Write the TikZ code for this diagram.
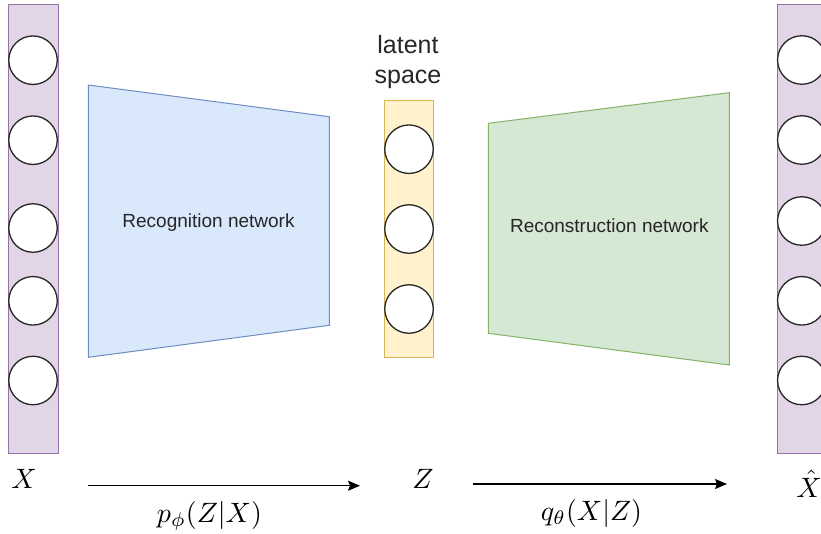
\documentclass[tikz,border=0pt]{standalone}
\usepackage{fontspec}
\setmainfont{Liberation Sans}
\usepackage{amsmath,amssymb}
\usepackage{xcolor}
\usetikzlibrary{positioning,arrows.meta}

\definecolor{colFill}{HTML}{E1D5E7}
\definecolor{colLine}{HTML}{9673A6}
\definecolor{encFill}{HTML}{DAE8FC}
\definecolor{encLine}{HTML}{6C8EBF}
\definecolor{decFill}{HTML}{D5E8D4}
\definecolor{decLine}{HTML}{82B366}
\definecolor{latFill}{HTML}{FFF2CC}
\definecolor{latLine}{HTML}{D6B656}

\begin{document}
\begin{tikzpicture}[x=1pt, y=-1pt,
  column/.style={draw=colLine, fill=colFill, line width=1pt, minimum width=49.8pt, minimum height=449.5pt, inner sep=0pt},
  neuron/.style={circle, draw=black!85, line width=1.3pt, fill=white, minimum size=48.5pt, inner sep=0pt},
  netlabel/.style={font=\fontsize{19}{23}\selectfont, text=black!85, inner sep=0pt},
  mathlabel/.style={scale=2.8, inner sep=0pt},
  flow/.style={line width=1.2pt, -{Stealth[length=12pt, width=10pt, inset=2pt]}}]
  \clip (0,0) rectangle (821,533);

  % Input layer X
  \node[column] (incol) at (33.4, 228.75) {};
  \foreach \y [count=\i] in {60.2, 140.2, 228, 300.8, 380.5}
    \node[neuron] (x\i) at (33, \y) {};
  \node[mathlabel, anchor=base] (xlab) at (24, 488) {$X$};

  % Recognition network
  \filldraw[draw=encLine, fill=encFill, line width=1pt] (88.3,85) -- (329.3,116.7) -- (329.3,325.3) -- (88.3,357.3) -- cycle;
  \node[netlabel, anchor=base] (enc) at (208.5, 227.3) {Recognition network};

  % Latent space Z
  \node[draw=latLine, fill=latFill, line width=1pt, minimum width=48.3pt, minimum height=256.6pt, inner sep=0pt] (zcol) at (409, 229) {};
  \foreach \y [count=\i] in {149.2, 229, 309}
    \node[neuron] (z\i) at (409, \y) {};
  \node[font=\fontsize{25}{30}\selectfont, text=black!85, align=center, inner sep=0pt] (latlab) at (408, 62) {latent\\space};
  \node[mathlabel, anchor=base] (zlab) at (423, 488) {$Z$};

  % Reconstruction network
  \filldraw[draw=decLine, fill=decFill, line width=1pt] (488.3,123.3) -- (729.3,92.7) -- (729.3,365) -- (488.3,333.3) -- cycle;
  \node[netlabel, anchor=base] (dec) at (609.3, 232.7) {Reconstruction network};

  % Output layer X hat
  \node[column] (outcol) at (802, 228.75) {};
  \foreach \y [count=\i] in {60, 140, 221, 300.8, 380.5}
    \node[neuron] (y\i) at (801.8, \y) {};
  \node[mathlabel, anchor=base] (xhatlab) at (809, 497) {$\hat{X}$};

  % Encoder / decoder arrows
  \coordinate (pstart) at (88.3, 485.7);
  \coordinate (pend) at (360, 485.7);
  \coordinate (qstart) at (473.3, 484);
  \coordinate (qend) at (727, 484);
  \draw[flow] (pstart) -- (pend);
  \draw[flow] (qstart) -- (qend);
  \node[mathlabel] (plab) at (209.5, 516) {$p_\phi(Z|X)$};
  \node[mathlabel] (qlab) at (591.5, 513.5) {$q_\theta(X|Z)$};
\end{tikzpicture}
\end{document}
